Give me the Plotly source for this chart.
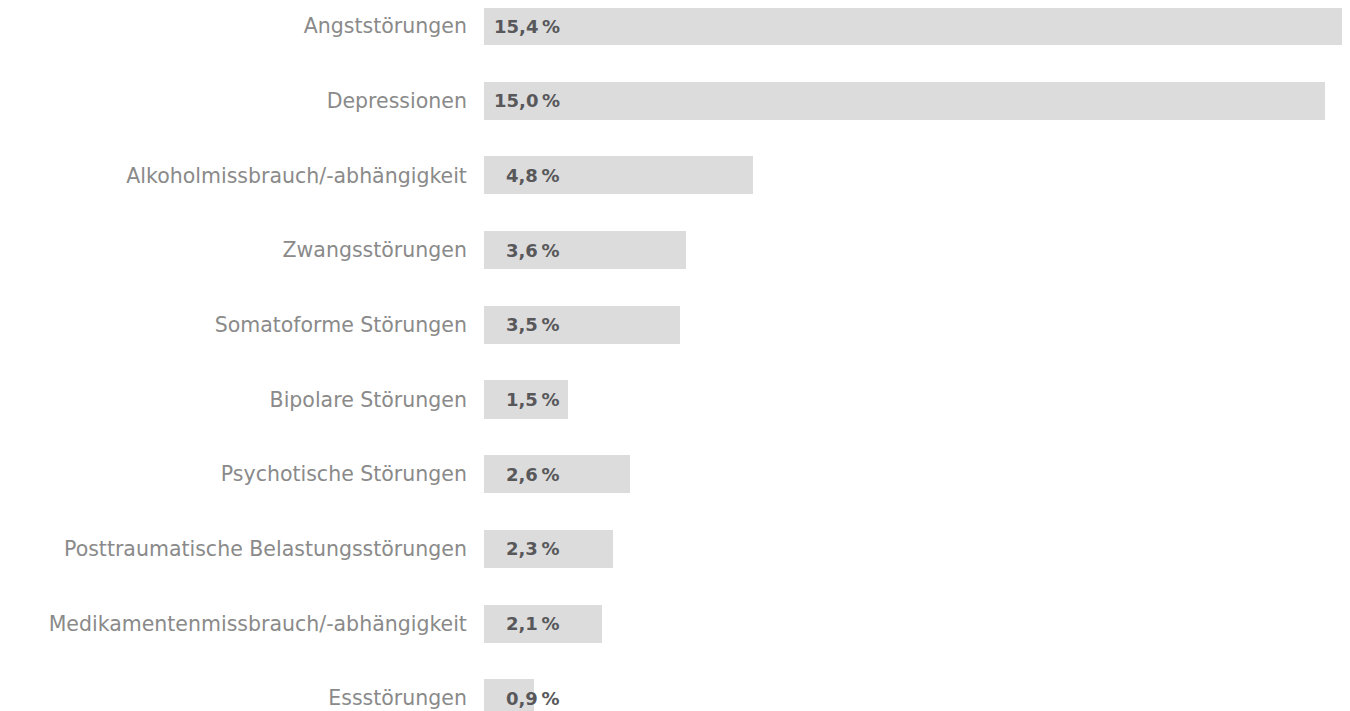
import plotly.graph_objects as go

categories = [
    "Angststörungen",
    "Depressionen",
    "Alkoholmissbrauch/-abhängigkeit",
    "Zwangsstörungen",
    "Somatoforme Störungen",
    "Bipolare Störungen",
    "Psychotische Störungen",
    "Posttraumatische Belastungsstörungen",
    "Medikamentenmissbrauch/-abhängigkeit",
    "Essstörungen",
]
values = [15.4, 15.0, 4.8, 3.6, 3.5, 1.5, 2.6, 2.3, 2.1, 0.9]
value_labels = ["15,4\u2009%", "15,0\u2009%", "4,8\u2009%", "3,6\u2009%", "3,5\u2009%",
                "1,5\u2009%", "2,6\u2009%", "2,3\u2009%", "2,1\u2009%", "0,9\u2009%"]

FONT = "DejaVu Sans, Roboto, Arial, sans-serif"

fig = go.Figure()
fig.add_trace(go.Bar(
    x=values,
    y=categories,
    orientation="h",
    marker=dict(color="#dcdcdd", line=dict(width=0)),
    width=0.51,
    hoverinfo="skip",
))

for cat, lab in zip(categories, value_labels):
    fig.add_annotation(
        x=0.0904, xref="paper", y=cat, yref="y",
        text="<b>" + lab + "</b>", showarrow=False,
        xanchor="right", yanchor="middle",
        font=dict(family=FONT, size=18, color="#58585a"),
    )

fig.update_layout(
    width=1350, height=711,
    margin=dict(l=476, r=11, t=0, b=0),
    paper_bgcolor="white", plot_bgcolor="white",
    showlegend=False,
    bargap=0,
    xaxis=dict(range=[0, 15.4], visible=False, fixedrange=True),
    yaxis=dict(
        categoryorder="array", categoryarray=categories,
        range=[9.277, -0.241],
        showgrid=False, zeroline=False, showline=False,
        ticks="outside", ticklen=12, tickcolor="rgba(0,0,0,0)",
        tickfont=dict(family=FONT, size=20.5, color="#8a8a8a"),
    ),
)

fig.write_html("out.html")
